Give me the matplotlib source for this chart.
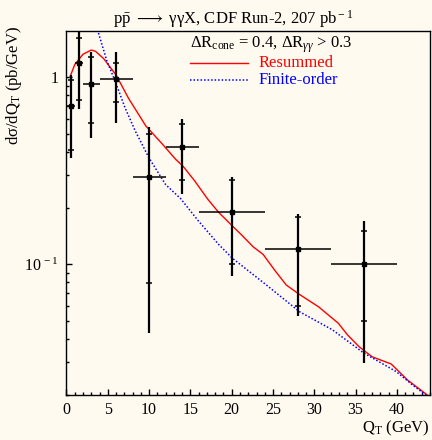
import numpy as np
import matplotlib
matplotlib.use("Agg")
import matplotlib.pyplot as plt

plt.rcParams['font.family'] = ['Liberation Serif', 'DejaVu Serif']
plt.rcParams['mathtext.fontset'] = 'custom'
plt.rcParams['mathtext.rm'] = 'Liberation Serif'
plt.rcParams['mathtext.it'] = 'Liberation Serif:italic'

# CDF Run-2 diphoton data: bin centres, bin edges, values and errors (pb/GeV)
qt = [0.5, 1.5, 3.0, 6.0, 10.0, 14.0, 20.0, 28.0, 36.0]
qt_lo = [0, 1, 2, 4, 8, 12, 16, 24, 32]
qt_hi = [1, 2, 4, 8, 12, 16, 24, 32, 40]
xsec = [0.70, 1.19, 0.925, 0.975, 0.292, 0.423, 0.190, 0.121, 0.100]
tot_up = [1.03, 1.76, 1.37, 1.36, 0.54, 0.60, 0.292, 0.186, 0.1705]
tot_dn = [0.372, 0.674, 0.475, 0.570, 0.0431, 0.237, 0.0869, 0.0531, 0.0296]
stat_up = [0.97, 1.63, 1.28, 1.20, 0.50, 0.563, 0.282, 0.180, 0.150]
stat_dn = [0.41, 0.757, 0.573, 0.736, 0.0797, 0.282, 0.100, 0.060, 0.050]

# theory curves
res_qt = [0.4, 1.0, 2.0, 3.0, 3.5, 4.5, 6.0, 7.5, 9.6, 11.6, 13.2, 14.1, 15.5,
          17.1, 18.4, 20.1, 21.2, 22.6, 23.8, 25.2, 26.6, 28.2, 30.5, 32.9,
          34.0, 35.4, 37.0, 39.3, 41.3, 44.0]
res_val = [1.0, 1.17, 1.33, 1.40, 1.38, 1.26, 1.03, 0.774, 0.55, 0.44, 0.365,
           0.335, 0.28, 0.223, 0.19, 0.160, 0.1435, 0.124, 0.113, 0.093,
           0.0775, 0.069, 0.0593, 0.0484, 0.042, 0.0363, 0.032, 0.0293,
           0.024, 0.0195]
fo_qt = [3.75, 4.9, 5.9, 7.1, 8.35, 10.0, 12.0, 13.8, 15.9, 18.4, 20.1, 24.2,
         28.2, 32.2, 36.0, 39.9, 41.9, 43.5, 44.0]
fo_val = [1.80, 1.22, 0.952, 0.685, 0.514, 0.370, 0.267, 0.225, 0.172, 0.128,
          0.1076, 0.0775, 0.0558, 0.0446, 0.0335, 0.0267, 0.0226, 0.020, 0.0193]

bg = '#fffaf0'
fig = plt.figure(figsize=(4.32, 4.40), dpi=100, facecolor=bg)
ax = fig.add_axes([0.1539, 0.1023, 0.8415, 0.8272], facecolor=bg)

ax.plot(res_qt, res_val, color='#ff0000', lw=1.0, zorder=3)
ax.plot(fo_qt, fo_val, color='#0000ff', lw=1.1, ls=(0, (1.0, 1.3)), zorder=3)

qt = np.array(qt)
xsec = np.array(xsec)
yerr_tot = [xsec - np.array(tot_dn), np.array(tot_up) - xsec]
yerr_stat = [xsec - np.array(stat_dn), np.array(stat_up) - xsec]
xerr = [qt - np.array(qt_lo), np.array(qt_hi) - qt]

ax.errorbar(qt, xsec, yerr=yerr_tot, fmt='none', ecolor='black',
            elinewidth=1.6, capsize=0, zorder=4)
ax.errorbar(qt, xsec, xerr=xerr, fmt='s', color='black', ms=2.6,
            elinewidth=1.1, capsize=0, zorder=4)
ax.errorbar(qt, xsec, yerr=yerr_stat, fmt='none', ecolor='black',
            elinewidth=0, capsize=2.5, capthick=1.1, zorder=4)

ax.set_yscale('log')
ax.set_xlim(0, 44)
ax.set_ylim(0.02, 1.77)

ax.set_xticks(np.arange(0, 45, 5))
ax.set_xticks(np.arange(0, 45, 1), minor=True)
ax.set_yticks([0.1, 1])
ax.set_yticklabels([r'10$^{\,\rm -1}$', '1'])
ax.set_yticks([0.02, 0.03, 0.04, 0.05, 0.06, 0.07, 0.08, 0.09,
               0.2, 0.3, 0.4, 0.5, 0.6, 0.7, 0.8, 0.9], minor=True)
ax.yaxis.set_minor_formatter(plt.NullFormatter())
ax.tick_params(which='both', direction='in', width=1.0, labelsize=11.5,
               top=False, right=False)
ax.tick_params(which='major', length=4.5)
ax.tick_params(which='minor', length=2.2)
ax.tick_params(axis='x', pad=5)
ax.tick_params(axis='y', pad=6)
for s in ax.spines.values():
    s.set_linewidth(1.0)

# legend block
ax.text(0.34, 0.9615, r'$\Delta$R$_{\rm cone}$ = 0.4, $\Delta$R$_{\gamma\gamma}$ > 0.3',
        transform=ax.transAxes, fontsize=12, ha='left', va='center')
ax.plot([0.34, 0.4993], [0.912, 0.912], transform=ax.transAxes,
        color='#ff0000', lw=1.0)
ax.text(0.527, 0.912, 'Resummed', transform=ax.transAxes, fontsize=12,
        color='#ff0000', ha='left', va='center')
ax.plot([0.34, 0.4993], [0.8654, 0.8654], transform=ax.transAxes,
        color='#0000ff', lw=1.1, ls=(0, (1.0, 1.3)))
ax.text(0.527, 0.8654, 'Finite-order', transform=ax.transAxes, fontsize=12,
        color='#0000ff', ha='left', va='center')

fig.text(0.54, 0.957,
         r'p$\bar{\rm p}$ $\longrightarrow$ γγX, CDF Run-2, 207 pb$^{\rm -1}$',
         fontsize=12, ha='center', va='center')
fig.text(0.032, 0.941, r'dσ/dQ$_{\rm T}$ (pb/GeV)', rotation=90,
         fontsize=12, ha='center', va='top')
fig.text(0.995, 0.027, r'Q$_{\rm T}$ (GeV)', fontsize=12, ha='right',
         va='center')

fig.savefig('out.png', dpi=100, facecolor=bg)
